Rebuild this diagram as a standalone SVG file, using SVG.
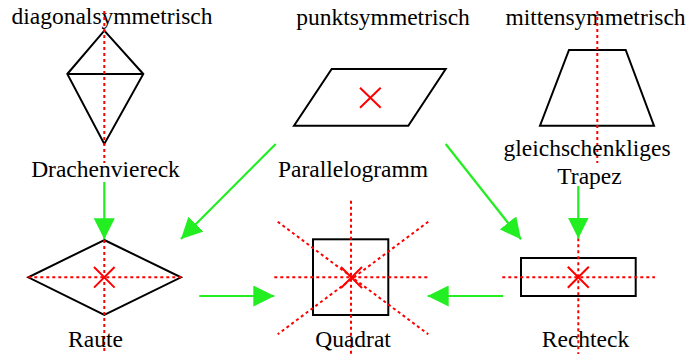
<svg xmlns="http://www.w3.org/2000/svg" width="689" height="354" viewBox="0 0 689 354">
<style>
.lbl{font-family:"Liberation Serif","Times New Roman",serif;font-size:23.5px;fill:#000;text-anchor:middle}
.shape{fill:none;stroke:#000;stroke-width:2}
.axis{fill:none;stroke:#ff0000;stroke-width:2;stroke-dasharray:3,3}
.cross{fill:none;stroke:#ff0000;stroke-width:2}
.conn{fill:none;stroke:#22ee22;stroke-width:2.2;marker-end:url(#ah)}
</style>
<defs>
<marker id="ah" markerUnits="userSpaceOnUse" markerWidth="21" markerHeight="21" viewBox="0 0 20 20" refX="20" refY="10" orient="auto">
<path d="M0,0 L20,10 L0,20 z" fill="#22ee22"/>
</marker>
</defs>
<rect width="689" height="354" fill="#fff"/>
<g id="labels-top">
<text class="lbl" x="112" y="24">diagonalsymmetrisch</text>
<text class="lbl" x="383" y="25">punktsymmetrisch</text>
<text class="lbl" x="595.5" y="25">mittensymmetrisch</text>
</g>
<g id="drachenviereck">
<polygon class="shape" points="104.3,30.7 143.3,74 104.3,144 67.3,74"/>
<line class="shape" x1="67.3" y1="74" x2="143.3" y2="74"/>
<line class="axis" x1="104.3" y1="11" x2="104.3" y2="163"/>
<text class="lbl" x="105.5" y="176.5">Drachenviereck</text>
</g>
<g id="parallelogramm">
<polygon class="shape" points="331.7,69 445.7,69 408.3,125.7 294,125.7"/>
<path class="cross" d="M360,87.7 L380.7,107.7 M380.7,87.7 L360,107.7"/>
<text class="lbl" x="353" y="176.5">Parallelogramm</text>
</g>
<g id="trapez">
<polygon class="shape" points="569,50 625.7,50 654,125.7 540,125.7"/>
<line class="axis" x1="597.3" y1="11" x2="597.3" y2="163"/>
<text class="lbl" x="587" y="155.7">gleichschenkliges</text>
<text class="lbl" x="589.5" y="184">Trapez</text>
</g>
<g id="raute">
<polygon class="shape" points="104.3,240 181,277.3 104.3,315 28.3,277.3"/>
<line class="axis" x1="28.3" y1="277.3" x2="181" y2="277.3"/>
<line class="axis" x1="104.3" y1="240" x2="104.3" y2="354"/>
<path class="cross" d="M94,267 L114.6,287.6 M114.6,267 L94,287.6"/>
<text class="lbl" x="95.5" y="346.7">Raute</text>
</g>
<g id="quadrat">
<rect class="shape" x="313" y="239.3" width="75.3" height="75.7"/>
<line class="axis" x1="351" y1="200.7" x2="351" y2="354"/>
<line class="axis" x1="274.3" y1="277.3" x2="428.3" y2="277.3"/>
<line class="axis" x1="277.7" y1="221.7" x2="428.3" y2="334.3"/>
<line class="axis" x1="428.3" y1="221.7" x2="277.7" y2="334.3"/>
<path class="cross" d="M341,267 L362,288 M362,267 L341,288"/>
<text class="lbl" x="353" y="346.7">Quadrat</text>
</g>
<g id="rechteck">
<rect class="shape" x="521" y="258" width="114.7" height="38"/>
<line class="axis" x1="502.3" y1="277.3" x2="655" y2="277.3"/>
<line class="axis" x1="578.3" y1="238.3" x2="578.3" y2="354"/>
<path class="cross" d="M567.8,266.8 L588.8,287.8 M588.8,266.8 L567.8,287.8"/>
<text class="lbl" x="585.5" y="346.7">Rechteck</text>
</g>
<g id="connectors">
<line class="conn" x1="104.3" y1="182" x2="104.3" y2="239.3"/>
<line class="conn" x1="275.7" y1="144" x2="181" y2="239"/>
<line class="conn" x1="445.7" y1="144" x2="521" y2="239.3"/>
<line class="conn" x1="578.3" y1="186" x2="578.3" y2="238.5"/>
<line class="conn" x1="199.3" y1="296" x2="274.3" y2="296"/>
<line class="conn" x1="503.3" y1="296" x2="427.7" y2="296"/>
</g>
</svg>
